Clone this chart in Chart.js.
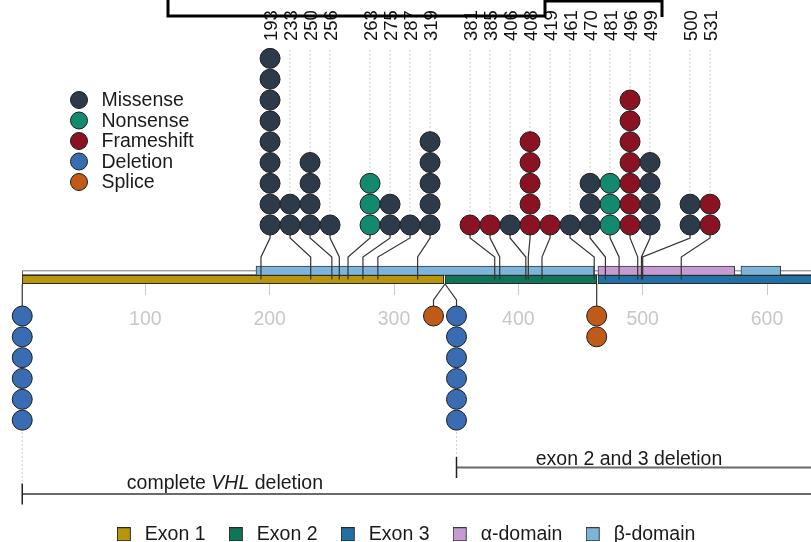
<!DOCTYPE html>
<html>
<head>
<meta charset="utf-8">
<script src="https://cdn.jsdelivr.net/npm/chart.js@4/dist/chart.umd.min.js"></script>
<style>
  html, body { margin: 0; padding: 0; background: #ffffff; overflow: hidden; }
  #frame { position: relative; width: 811px; height: 542px; overflow: hidden; }
  #wrap { position: absolute; left: 0; top: 0; width: 811px; height: 554px; }
</style>
</head>
<body>
<div id="frame"><div id="wrap"><canvas id="chart"></canvas></div></div>
<script>
// ---- Variant classes -------------------------------------------------------
const mutationTypes = ['Missense', 'Nonsense', 'Frameshift', 'Deletion', 'Splice'];
const typeColors = ['#2c3a4a', '#138a6e', '#8a1222', '#3a6cb4', '#c05a18'];

// ---- Point variants drawn above the gene track (cDNA position, nt) ---------
const variantPositions = [193, 233, 250, 256, 263, 275, 287, 319, 381, 385, 406, 408, 419, 461, 470, 481, 496, 499, 500, 531];
const variantCounts    = [9,   2,   4,   1,   3,   2,   1,   5,   1,   1,   1,   5,   1,   1,   3,   3,   7,   4,   2,   2];
const variantTypes = [
  'Missense', 'Missense', 'Missense', 'Missense',
  'Nonsense', 'Missense', 'Missense', 'Missense',
  'Frameshift', 'Frameshift', 'Missense', 'Frameshift', 'Frameshift', 'Missense', 'Missense', 'Nonsense', 'Frameshift', 'Missense',
  'Missense', 'Frameshift'
];
// label clusters along the top row
const variantGroups = [0, 0, 0, 0, 1, 1, 1, 1, 2, 2, 2, 2, 2, 2, 2, 2, 2, 2, 3, 3];

// ---- Events drawn below the gene track --------------------------------------
const lowerPositions = [1, 341, 341, 463];
const lowerCounts    = [6, 1, 6, 2];
const lowerTypes     = ['Deletion', 'Splice', 'Deletion', 'Splice'];

// ---- Large deletions ---------------------------------------------------------
const rangeLabels = ['complete VHL deletion', 'exon 2 and 3 deletion'];
const rangeStarts = [1, 341];
const rangeEnds   = [642, 642];
const italicTerms = ['VHL'];

// ---- Gene model ------------------------------------------------------------
const cdsLength  = 642;
const exonNames  = ['Exon 1', 'Exon 2', 'Exon 3'];
const exonStarts = [1, 341, 464];
const exonEnds   = [340, 463, 642];
const exonColors = ['#b8950b', '#0f7558', '#2271a6'];

const domainNames  = ['α-domain', 'β-domain'];
const domainStarts = [[464], [189, 579]];
const domainEnds   = [[574], [461, 611]];
const domainColors = ['#c59cd2', '#7db4da'];

const axisTicks = [100, 200, 300, 400, 500, 600];

// ---- Layout ----------------------------------------------------------------
const FONT = "'Liberation Sans', Arial, Helvetica, sans-serif";
const X0_PX = 21.0, PX_PER_NT = 1.2434;  // canvas x of position 0, pixels per nt
const ROW_PX = 20.83;                    // vertical pitch of stacked dots (1 y unit)
const TRACK_PX = 275.5;                  // canvas y of the domain / exon seam
const toRows = dpx => -dpx / ROW_PX;     // pixel offset below the seam -> y units

const TOP_FIRST = -50.5, TOP_BEND_1 = -37.5, TOP_BEND_2 = -18.5, TOP_END = 4, GUIDE_TOP = -225.5;
const LOW_START = 8.5, LOW_BEND = 24.5, LOW_FIRST = 40.5;
const RANGE_DPX = [218.5, 192], RANGE_TICK = 10.5, RANGE_TEXT_DPX = [213.5, 189.8];
const rangeLabelCenters = [164, 489];
const COL_START = 200.3, COL_STEP_PX = 20, LOW_STEP_PX = 23;
const LABEL_FONT = 18.5;

const typeIndex = t => mutationTypes.indexOf(t);
const gap = () => ({ x: null, y: null });

// column of each stacked variant along the top row
const columns = variantPositions.map((p, i) => COL_START + (i + variantGroups[i]) * COL_STEP_PX / PX_PER_NT);

// events sharing a position below the track are spread side by side
const lowerColumns = lowerPositions.map((p, i) => {
  const same = lowerPositions.map((q, j) => j).filter(j => lowerPositions[j] === p);
  const k = same.indexOf(i), n = same.length;
  return p + (k - (n - 1) / 2) * LOW_STEP_PX / PX_PER_NT;
});
const rangeDotIndex = rangeStarts.map(s => lowerPositions.findIndex((p, j) => p === s && lowerTypes[j] === 'Deletion'));

// dots
const dotData = mutationTypes.map(() => []);
variantPositions.forEach((p, i) => {
  for (let k = 0; k < variantCounts[i]; k++) {
    dotData[typeIndex(variantTypes[i])].push({ x: columns[i], y: toRows(TOP_FIRST - k * ROW_PX) });
  }
});
lowerPositions.forEach((p, i) => {
  for (let k = 0; k < lowerCounts[i]; k++) {
    dotData[typeIndex(lowerTypes[i])].push({ x: lowerColumns[i], y: toRows(LOW_FIRST + k * ROW_PX) });
  }
});

// stems joining each stack to its position on the track
const connectors = [];
variantPositions.forEach((p, i) => {
  const c = columns[i];
  connectors.push({ x: c, y: toRows(TOP_FIRST) }, { x: c, y: toRows(TOP_BEND_1) },
                  { x: p, y: toRows(TOP_BEND_2) }, { x: p, y: toRows(TOP_END) }, gap());
});
lowerPositions.forEach((p, i) => {
  const c = lowerColumns[i];
  if (Math.abs(c - p) < 1e-9) {
    connectors.push({ x: p, y: toRows(LOW_START) }, { x: p, y: toRows(LOW_FIRST) }, gap());
  } else {
    connectors.push({ x: p, y: toRows(LOW_START) }, { x: c, y: toRows(LOW_BEND) }, { x: c, y: toRows(LOW_FIRST) }, gap());
  }
});

// dotted guides from the labels down to the stacks, and from deletions to their ranges
const guides = [];
variantPositions.forEach((p, i) => {
  const c = columns[i];
  guides.push({ x: c, y: toRows(GUIDE_TOP) }, { x: c, y: toRows(TOP_FIRST - (variantCounts[i] - 1) * ROW_PX) }, gap());
});
rangeStarts.forEach((s, r) => {
  const li = rangeDotIndex[r], c = lowerColumns[li];
  guides.push({ x: c, y: toRows(LOW_FIRST + (lowerCounts[li] - 1) * ROW_PX) }, { x: c, y: toRows(RANGE_DPX[r] - RANGE_TICK) }, gap());
});

// deletion extents
const rangeLines = [], rangeTicks = [];
rangeStarts.forEach((s, r) => {
  const c = lowerColumns[rangeDotIndex[r]];
  rangeLines.push({ x: c, y: toRows(RANGE_DPX[r]) }, { x: rangeEnds[r], y: toRows(RANGE_DPX[r]) }, gap());
  rangeTicks.push({ x: c, y: toRows(RANGE_DPX[r] - RANGE_TICK) }, { x: c, y: toRows(RANGE_DPX[r] + RANGE_TICK) }, gap());
});

const lineSet = (data, color, width, order, dash) => ({
  type: 'line', data, borderColor: color, borderWidth: width, borderDash: dash || [],
  pointRadius: 0, pointHoverRadius: 0, spanGaps: false, fill: false, tension: 0, order, clip: false
});
const barSet = (label, data, color, border, thickness, order) => ({
  type: 'bar', label, indexAxis: 'y', data, backgroundColor: color, borderColor: border, borderWidth: 1,
  barThickness: thickness, grouped: false, borderSkipped: false, order, clip: false
});

const datasets = [
  ...mutationTypes.map((t, i) => ({
    type: 'scatter', label: t, data: dotData[i], backgroundColor: typeColors[i], borderColor: '#1e1e1e',
    borderWidth: 1, pointRadius: 10, pointHoverRadius: 10, order: 0, clip: false
  })),
  lineSet(connectors, '#333333', 1.2, 1),
  lineSet(rangeTicks, '#222222', 1.5, 1),
  lineSet(rangeLines, '#6a6a6a', 2, 1),
  ...exonNames.map((n, i) => barSet(n, [{ x: [exonStarts[i], exonEnds[i]], y: toRows(4) }], exonColors[i], '#2a2a2a', 8.5, 2)),
  ...domainNames.map((n, i) => barSet(n, domainStarts[i].map((s, j) => ({ x: [s, domainEnds[i][j]], y: toRows(-4.75) })), domainColors[i], '#3a3a3a', 9.5, 3)),
  barSet('backbone', [{ x: [1, cdsLength], y: toRows(-2.65) }], '#ffffff', '#555555', 4.3, 4),
  lineSet(guides, '#c4c4c4', 1, 5, [1.5, 2.5])
];

// square legend swatch, set to the left of its slot
function swatch(fill, stroke) {
  const c = document.createElement('canvas');
  c.width = 17; c.height = 14;
  const g = c.getContext('2d');
  g.fillStyle = fill; g.fillRect(0.5, 0.5, 13, 13);
  g.strokeStyle = stroke; g.lineWidth = 1; g.strokeRect(0.5, 0.5, 13, 13);
  return c;
}

// ---- Plugins -----------------------------------------------------------------
const trackLayout = {
  id: 'trackLayout',
  // fix both scales in pixels: nt along x, dot rows relative to the track seam along y
  afterLayout(chart) {
    const a = chart.chartArea;
    ['x', 'xTop'].forEach(id => {
      const s = chart.scales[id];
      s.min = (a.left - X0_PX) / PX_PER_NT;
      s.max = (a.right - X0_PX) / PX_PER_NT;
      s.configure();
    });
    const y = chart.scales.y;
    y.max = (TRACK_PX - a.top) / ROW_PX;
    y.min = (TRACK_PX - a.bottom) / ROW_PX;
    y.configure();
  },
  afterDraw(chart) {
    const ctx = chart.ctx, xs = chart.scales.x, ys = chart.scales.y;
    ctx.save();

    // variant class key
    const LX = 79, LY = 100, LSTEP = 20.5;
    ctx.font = `19.5px ${FONT}`;
    ctx.textBaseline = 'middle';
    ctx.textAlign = 'left';
    mutationTypes.forEach((t, i) => {
      const cy = LY + i * LSTEP;
      ctx.beginPath();
      ctx.arc(LX, cy, 8.5, 0, Math.PI * 2);
      ctx.fillStyle = typeColors[i];
      ctx.fill();
      ctx.lineWidth = 1;
      ctx.strokeStyle = '#1e1e1e';
      ctx.stroke();
      ctx.fillStyle = '#1a1a1a';
      ctx.fillText(t, LX + 22.5, cy + 1);
    });

    // deletion captions (gene symbol in italics)
    ctx.textBaseline = 'alphabetic';
    const re = new RegExp('(' + italicTerms.join('|') + ')');
    rangeLabels.forEach((label, r) => {
      const parts = label.split(re).filter(s => s.length);
      const fonts = parts.map(s => (italicTerms.includes(s) ? 'italic ' : '') + `19.5px ${FONT}`);
      let total = 0;
      const widths = parts.map((s, k) => { ctx.font = fonts[k]; const w = ctx.measureText(s).width; total += w; return w; });
      let x = xs.getPixelForValue(rangeLabelCenters[r]) - total / 2;
      const y = ys.getPixelForValue(toRows(RANGE_TEXT_DPX[r]));
      ctx.fillStyle = '#1a1a1a';
      parts.forEach((s, k) => { ctx.font = fonts[k]; ctx.fillText(s, x, y); x += widths[k]; });
    });

    // outline across the top edge
    ctx.beginPath();
    ctx.moveTo(168, -2); ctx.lineTo(168, 16); ctx.lineTo(545, 16); ctx.lineTo(545, 1);
    ctx.lineTo(662, 1); ctx.lineTo(662, 17);
    ctx.lineWidth = 3;
    ctx.strokeStyle = '#000000';
    ctx.stroke();
    ctx.restore();
  }
};

Chart.defaults.font.family = FONT;

new Chart(document.getElementById('chart'), {
  type: 'scatter',
  data: { datasets },
  plugins: [trackLayout],
  options: {
    responsive: true,
    maintainAspectRatio: false,
    animation: false,
    events: [],
    layout: { autoPadding: false, padding: 0 },
    plugins: {
      tooltip: { enabled: false },
      legend: {
        position: 'bottom',
        labels: {
          generateLabels(chart) {
            return Chart.defaults.plugins.legend.labels.generateLabels(chart)
              .filter(item => exonNames.includes(item.text) || domainNames.includes(item.text))
              .map(item => Object.assign(item, { pointStyle: swatch(item.fillStyle, item.strokeStyle) }));
          },
          usePointStyle: true,
          boxHeight: 13,
          padding: 22,
          color: '#1a1a1a',
          font: { size: 19.5, family: FONT }
        }
      }
    },
    scales: {
      x: {
        type: 'linear',
        min: -X0_PX / PX_PER_NT, max: (811 - X0_PX) / PX_PER_NT,
        position: { y: toRows(8.8) },
        afterBuildTicks: s => { s.ticks = axisTicks.map(v => ({ value: v })); },
        afterFit: s => { s.height = 0; },
        border: { display: false },
        grid: { drawOnChartArea: false, drawTicks: true, tickLength: 11, color: '#c8c8c8', lineWidth: 1 },
        ticks: { color: '#c8c8c8', font: { size: 19.5 }, padding: 13, maxRotation: 0, autoSkip: false }
      },
      xTop: {
        type: 'linear',
        min: -X0_PX / PX_PER_NT, max: (811 - X0_PX) / PX_PER_NT,
        position: 'top',
        afterBuildTicks: s => { s.ticks = columns.map(v => ({ value: v })); },
        afterFit: s => { s.height = 46; },
        border: { display: false },
        grid: { display: false, drawTicks: false },
        ticks: {
          callback: (v, i) => String(variantPositions[i]),
          minRotation: 90, maxRotation: 90, autoSkip: false,
          labelOffset: LABEL_FONT * 1.2 + 1.5,
          color: '#111111', font: { size: LABEL_FONT }, padding: 5
        }
      },
      y: { type: 'linear', display: false, offset: false, min: -12, max: 12 }
    }
  }
});
</script>
</body>
</html>
